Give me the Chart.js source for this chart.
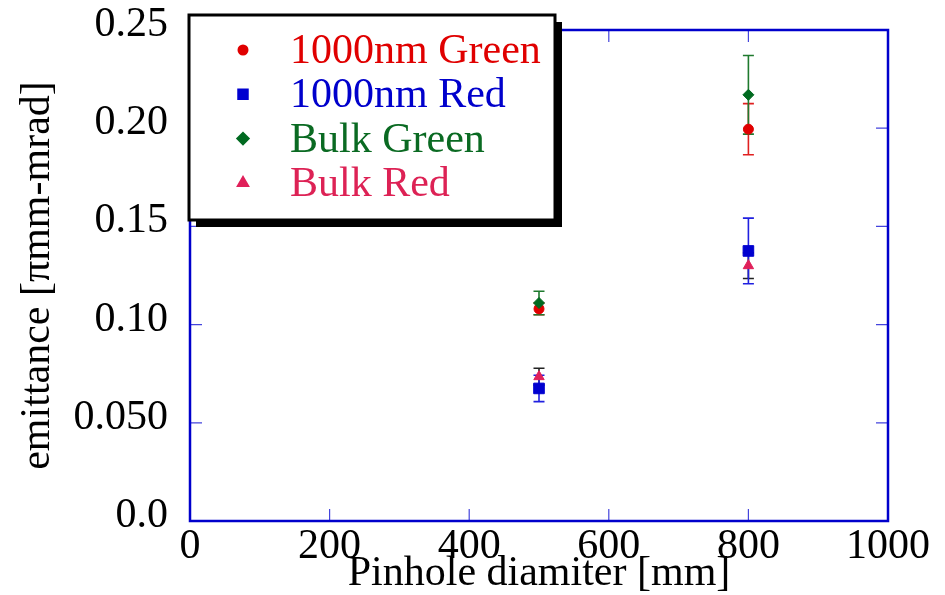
<!DOCTYPE html>
<html>
<head>
<meta charset="utf-8">
<script src="https://cdn.jsdelivr.net/npm/chart.js@4.4.1/dist/chart.umd.min.js"></script>
<style>
  html, body { margin: 0; padding: 0; background: #ffffff; }
  #wrap { width: 945px; height: 595px; }
</style>
</head>
<body>
<div id="wrap"><canvas id="emitChart" width="945" height="595"></canvas></div>
<script>

// ======================
// DATA
// ======================

const pinholeSizes = [500, 800];

const green1000 = [0.108, 0.1995];
const green1000Err = [0.003, 0.013];

const red1000 = [0.0675, 0.1375];
const red1000Err = [0.0067, 0.0167];

const bulkGreen = [0.111, 0.217];
const bulkGreenErr = [0.006, 0.020];

const bulkRed = [0.0735, 0.130];
const bulkRedErr = [0.0043, 0.0065];

const seriesNames = ["1000nm Green", "1000nm Red", "Bulk Green", "Bulk Red"];

const xTickLabels = ["0", "200", "400", "600", "800", "1000"];
const yTickLabels = ["0.0", "0.050", "0.10", "0.15", "0.20", "0.25"];

const SERIF = "'Liberation Serif', 'Times New Roman', serif";
const FRAME = "#0000cc";

function points(values) {
  return pinholeSizes.map((x, i) => ({ x: x, y: values[i] }));
}

// ======================
// ERROR BARS
// ======================
const errorBars = {
  id: "errorBars",
  beforeDatasetsDraw(chart) {
    const ctx = chart.ctx;
    const yScale = chart.scales.y;
    // draw in reverse of marker stacking so top series bars sit on top
    const order = [3, 1, 0, 2];
    order.forEach(di => {
      const ds = chart.data.datasets[di];
      const meta = chart.getDatasetMeta(di);
      ctx.save();
      ctx.strokeStyle = ds.errColor;
      ctx.lineWidth = 1.6;
      meta.data.forEach((pt, i) => {
        const v = ds.data[i].y;
        const e = ds.errors[i];
        const top = yScale.getPixelForValue(v + e);
        const bot = yScale.getPixelForValue(v - e);
        ctx.beginPath();
        ctx.moveTo(pt.x, top);
        ctx.lineTo(pt.x, bot);
        ctx.moveTo(pt.x - 5.5, top);
        ctx.lineTo(pt.x + 5.5, top);
        ctx.moveTo(pt.x - 5.5, bot);
        ctx.lineTo(pt.x + 5.5, bot);
        ctx.stroke();
      });
      ctx.restore();
    });
  }
};

// ======================
// FRAME + INSIDE TICKS
// ======================
const frameTicks = {
  id: "frameTicks",
  beforeDatasetsDraw(chart) {
    const ctx = chart.ctx;
    const a = chart.chartArea;
    const xs = chart.scales.x;
    const ys = chart.scales.y;
    ctx.save();
    ctx.strokeStyle = "#4444dd";
    ctx.lineWidth = 1.2;
    ctx.beginPath();
    xs.ticks.forEach(t => {
      const px = xs.getPixelForValue(t.value);
      ctx.moveTo(px, a.bottom);
      ctx.lineTo(px, a.bottom - 12);
      ctx.moveTo(px, a.top);
      ctx.lineTo(px, a.top + 12);
    });
    ys.ticks.forEach(t => {
      const py = ys.getPixelForValue(t.value);
      ctx.moveTo(a.left, py);
      ctx.lineTo(a.left + 12, py);
      ctx.moveTo(a.right, py);
      ctx.lineTo(a.right - 12, py);
    });
    ctx.stroke();
    ctx.strokeStyle = FRAME;
    ctx.lineWidth = 2.5;
    ctx.strokeRect(a.left, a.top, a.right - a.left, a.bottom - a.top);
    ctx.restore();
  }
};

// ======================
// LEGEND BOX
// ======================
const boxLegend = {
  id: "boxLegend",
  afterDraw(chart) {
    const ctx = chart.ctx;
    const bx = 189, by = 15, bw = 366, bh = 205;
    ctx.save();
    ctx.fillStyle = "#000000";
    ctx.fillRect(bx + 7, by + 7, bw, bh);
    ctx.fillStyle = "#ffffff";
    ctx.fillRect(bx, by, bw, bh);
    ctx.strokeStyle = "#000000";
    ctx.lineWidth = 3;
    ctx.strokeRect(bx, by, bw, bh);

    ctx.font = "42px " + SERIF;
    ctx.textBaseline = "middle";
    ctx.textAlign = "left";
    chart.data.datasets.forEach((ds, i) => {
      const cy = 50 + i * 44.3;
      ctx.fillStyle = ds.backgroundColor;
      ctx.strokeStyle = ds.borderColor;
      Chart.helpers.drawPoint(ctx, {
        pointStyle: ds.pointStyle,
        radius: ds.legendRadius,
        borderWidth: 1,
        rotation: 0
      }, 243, cy);
      ctx.fillStyle = ds.textColor;
      ctx.fillText(ds.label, 290, cy + 2);
    });
    ctx.restore();
  }
};

// ======================
// CHART
// ======================
const ctx = document.getElementById("emitChart").getContext("2d");

new Chart(ctx, {
  type: "scatter",
  data: {
    datasets: [
      {
        label: seriesNames[0],
        data: points(green1000),
        errors: green1000Err,
        order: 2,
        errColor: "#e02020",
        textColor: "#e00000",
        pointStyle: "circle",
        pointRadius: 5,
        legendRadius: 4,
        backgroundColor: "#e00000",
        borderColor: "#e00000"
      },
      {
        label: seriesNames[1],
        data: points(red1000),
        errors: red1000Err,
        order: 3,
        errColor: "#2020e0",
        textColor: "#0000cc",
        pointStyle: "rect",
        pointRadius: 7.5,
        legendRadius: 6,
        backgroundColor: "#0000d0",
        borderColor: "#0000d0"
      },
      {
        label: seriesNames[2],
        data: points(bulkGreen),
        errors: bulkGreenErr,
        order: 1,
        errColor: "#1f7a2e",
        textColor: "#0a6a22",
        pointStyle: "rectRot",
        pointRadius: 5.5,
        legendRadius: 5,
        backgroundColor: "#006a20",
        borderColor: "#006a20"
      },
      {
        label: seriesNames[3],
        data: points(bulkRed),
        errors: bulkRedErr,
        order: 4,
        errColor: "#222222",
        textColor: "#dd2255",
        pointStyle: "triangle",
        pointRadius: 6,
        legendRadius: 5,
        backgroundColor: "#e0205a",
        borderColor: "#e0205a"
      }
    ]
  },
  options: {
    responsive: false,
    animation: false,
    layout: {
      padding: { top: 30, right: 57, left: 0, bottom: 0 }
    },
    plugins: {
      legend: { display: false },
      tooltip: { enabled: false }
    },
    scales: {
      x: {
        type: "linear",
        min: 0,
        max: 1000,
        afterFit: s => { s.height = 74; },
        grid: { display: false },
        border: { display: false },
        ticks: {
          stepSize: 200,
          padding: 0,
          maxRotation: 0,
          autoSkip: false,
          color: "#000000",
          font: { family: SERIF, size: 42, lineHeight: 0.85 },
          callback: (v, i) => xTickLabels[i]
        },
        title: {
          display: true,
          text: "Pinhole diamiter [mm]",
          color: "#000000",
          font: { family: SERIF, size: 42, lineHeight: 1 },
          padding: 0
        }
      },
      y: {
        type: "linear",
        min: 0,
        max: 0.25,
        afterFit: s => { s.width = 190; s.paddingTop = 0; s.paddingBottom = 0; },
        grid: { display: false },
        border: { display: false },
        ticks: {
          stepSize: 0.05,
          padding: 14,
          labelOffset: -5,
          autoSkip: false,
          color: "#000000",
          font: { family: SERIF, size: 42, lineHeight: 1 },
          callback: (v, i) => yTickLabels[i]
        },
        title: {
          display: true,
          text: "emittance [πmm-mrad]",
          color: "#000000",
          font: { family: SERIF, size: 42, lineHeight: 1 },
          padding: { top: 17, bottom: 0 }
        }
      }
    }
  },
  plugins: [frameTicks, errorBars, boxLegend]
});

</script>
</body>
</html>
